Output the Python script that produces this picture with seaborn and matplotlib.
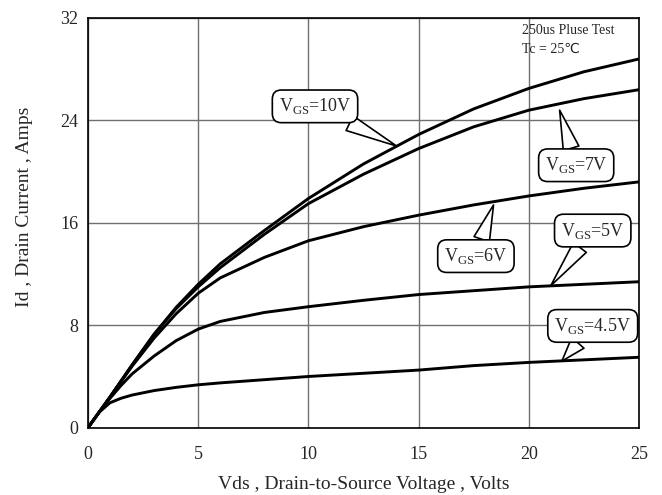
import matplotlib
matplotlib.use("Agg")
import matplotlib.pyplot as plt
import pandas as pd
import seaborn as sns
import numpy as np

#####
# Output characteristics, values
#####
vds = [0, 0.5, 1, 1.5, 2, 3, 4, 5, 6, 8, 10, 12.5, 15, 17.5, 20, 22.5, 25]

id_10v = [0, 1.2, 2.4, 3.65, 4.9, 7.3, 9.4, 11.2, 12.8, 15.4, 17.9, 20.6, 22.9, 24.9, 26.5, 27.8, 28.8]
id_7v = [0, 1.2, 2.4, 3.65, 4.9, 7.3, 9.3, 11.0, 12.5, 15.1, 17.5, 19.8, 21.8, 23.5, 24.8, 25.7, 26.4]
id_6v = [0, 1.2, 2.4, 3.6, 4.8, 7.0, 8.9, 10.5, 11.7, 13.3, 14.6, 15.7, 16.6, 17.4, 18.1, 18.7, 19.2]
id_5v = [0, 1.2, 2.3, 3.3, 4.2, 5.6, 6.8, 7.7, 8.3, 9.0, 9.45, 9.95, 10.4, 10.7, 11.0, 11.2, 11.4]
id_45v = [0, 1.2, 1.95, 2.3, 2.55, 2.9, 3.15, 3.35, 3.5, 3.75, 4.0, 4.25, 4.5, 4.85, 5.1, 5.3, 5.5]

curves = {"10V": id_10v, "7V": id_7v, "6V": id_6v, "5V": id_5v, "4.5V": id_45v}

# callout labels: (label, text centre, tip on the curve)
callouts = [
    ("10V", (10.3, 25.1), (14.0, 22.0)),
    ("7V", (22.15, 20.5), (21.4, 24.8)),
    ("6V", (17.6, 13.4), (18.4, 17.4)),
    ("5V", (22.9, 15.4), (21.0, 11.1)),
    ("4.5V", (22.9, 7.95), (21.5, 5.2)),
]

rows = []
for vgs, ids in curves.items():
    for x, y in zip(vds, ids):
        rows.append({"vds": x, "id": y, "vgs": vgs})
df = pd.DataFrame(rows)

sns.set_style("white")
plt.rcParams["font.family"] = ["Liberation Serif", "DejaVu Sans"]
plt.rcParams["mathtext.fontset"] = "custom"
plt.rcParams["mathtext.rm"] = "Liberation Serif"

fig = plt.figure(figsize=(6.62, 4.95), dpi=100)
ax = fig.add_axes([88 / 662, 1 - 427.7 / 495, 551 / 662, 409.7 / 495])

sns.lineplot(data=df, x="vds", y="id", units="vgs", estimator=None,
             color="black", linewidth=2.1, ax=ax, legend=False)

ax.set_xlim(0, 25)
ax.set_ylim(0, 32)
ax.set_xticks(range(0, 26, 5))
ax.set_yticks(range(0, 33, 8))
ax.grid(True, color="#707070", linewidth=1.0)
ax.set_axisbelow(True)
for s in ax.spines.values():
    s.set_color("black")
    s.set_linewidth(1.2)
ax.tick_params(axis="x", length=0, pad=13, labelsize=13)
ax.tick_params(axis="y", length=0, pad=7, labelsize=13)

ax.set_xlabel("Vds , Drain-to-Source Voltage , Volts", fontsize=14)
ax.xaxis.set_label_coords(0.5, -0.118)
ax.set_ylabel("Id , Drain Current , Amps", fontsize=14)
ax.yaxis.set_label_coords(-0.100, 0.54)

for lab, txt_xy, tip in callouts:
    ax.annotate("V$_{\\rm GS}$=" + lab, xy=tip, xytext=txt_xy,
                ha="center", va="center", fontsize=13,
                bbox=dict(boxstyle="round,pad=0.35,rounding_size=0.5",
                          fc="white", ec="black", lw=1.2),
                arrowprops=dict(arrowstyle="wedge,tail_width=0.9,shrink_factor=0.5",
                                fc="white", ec="black", lw=1.2,
                                shrinkA=0, shrinkB=0))

ax.text(0.788, 0.985, "250us Pluse Test", transform=ax.transAxes,
        fontsize=10, va="top", ha="left")
ax.text(0.788, 0.94, "Tc = 25℃", transform=ax.transAxes,
        fontsize=10, va="top", ha="left")

fig.savefig("out.png", dpi=100)
